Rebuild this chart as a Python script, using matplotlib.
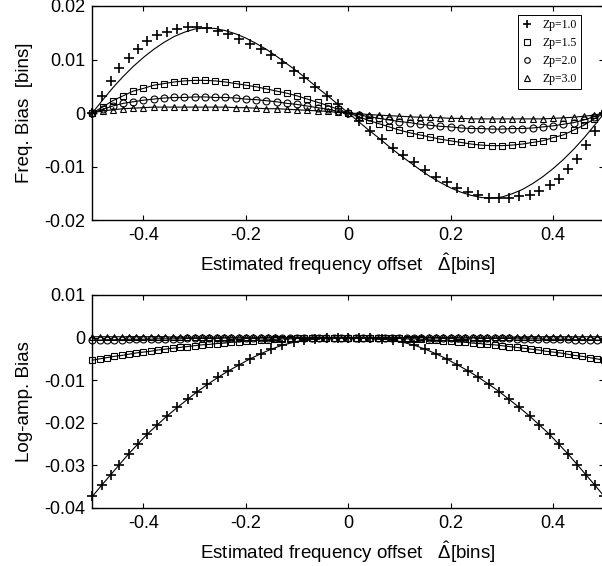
import matplotlib
matplotlib.use("Agg")
import matplotlib.pyplot as plt
import numpy as np

plt.rcParams['font.family'] = ['Liberation Sans', 'DejaVu Sans']
plt.rcParams['axes.unicode_minus'] = False
plt.rcParams['mathtext.fontset'] = 'custom'
plt.rcParams['mathtext.rm'] = 'Liberation Sans'
plt.rcParams['mathtext.it'] = 'Liberation Sans:italic'

# ---- data ----
labels = ['Zp=1.0', 'Zp=1.5', 'Zp=2.0', 'Zp=3.0']

# estimated offsets of the Zp=1.0 points (not evenly spaced)
x_est_zp10 = [-0.5, -0.482, -0.464, -0.447, -0.429, -0.411, -0.393, -0.373, -0.354, -0.334,
              -0.314, -0.295, -0.275, -0.254, -0.234, -0.213, -0.192, -0.171, -0.150, -0.129,
              -0.107, -0.087, -0.065, -0.042, -0.020, 0.0,
              0.020, 0.042, 0.065, 0.087, 0.107, 0.129, 0.150, 0.171, 0.192, 0.213,
              0.234, 0.254, 0.275, 0.295, 0.314, 0.334, 0.354, 0.373, 0.393, 0.411,
              0.429, 0.447, 0.464, 0.482, 0.5]

freq_zp10 = [0, 0.0032, 0.0060, 0.0084, 0.0103, 0.0120, 0.0135, 0.0145, 0.0152, 0.0157,
             0.0160, 0.0160, 0.0158, 0.0153, 0.0147, 0.0139, 0.0129, 0.0119, 0.0108, 0.0094,
             0.0079, 0.0065, 0.0049, 0.0032, 0.0017, 0,
             -0.0015, -0.0033, -0.0049, -0.0065, -0.0079, -0.0092, -0.0107, -0.0119, -0.0129, -0.0140,
             -0.0148, -0.0153, -0.0158, -0.0159, -0.0158, -0.0156, -0.0153, -0.0146, -0.0135, -0.0123,
             -0.0105, -0.0086, -0.0060, -0.0033, 0]

# theory curve for Zp=1.0 on the even grid
freq_zp10_theory = [0, 0.0024, 0.0047, 0.0068, 0.0087, 0.0104, 0.0119, 0.0132, 0.0143, 0.0151,
                    0.0157, 0.0159, 0.0158, 0.0154, 0.0148, 0.0140, 0.0130, 0.0119, 0.0106, 0.0092,
                    0.0078, 0.0063, 0.0047, 0.0032, 0.0016, 0,
                    -0.0016, -0.0032, -0.0047, -0.0063, -0.0078, -0.0092, -0.0106, -0.0119, -0.0130, -0.0140,
                    -0.0148, -0.0154, -0.0158, -0.0159, -0.0157, -0.0151, -0.0143, -0.0132, -0.0119, -0.0104,
                    -0.0087, -0.0068, -0.0047, -0.0024, 0]

freq_zp15 = [0, 0.0011, 0.0023, 0.0032, 0.0041, 0.0046, 0.0052, 0.0055, 0.0058, 0.0060,
             0.0061, 0.0061, 0.0060, 0.0058, 0.0055, 0.0052, 0.0049, 0.0045, 0.0041, 0.0037,
             0.0032, 0.0026, 0.0020, 0.0014, 0.0007, 0,
             -0.0007, -0.0014, -0.0020, -0.0026, -0.0032, -0.0037, -0.0041, -0.0045, -0.0049, -0.0052,
             -0.0055, -0.0058, -0.0060, -0.0061, -0.0061, -0.0060, -0.0058, -0.0055, -0.0052, -0.0046,
             -0.0041, -0.0032, -0.0023, -0.0011, 0]

freq_zp20 = [0, 0.0007, 0.0013, 0.0018, 0.0021, 0.0024, 0.0026, 0.0028, 0.0029, 0.0029,
             0.0030, 0.0030, 0.0029, 0.0029, 0.0028, 0.0026, 0.0025, 0.0023, 0.0021, 0.0018,
             0.0016, 0.0013, 0.0010, 0.0007, 0.0003, 0,
             -0.0003, -0.0007, -0.0010, -0.0013, -0.0016, -0.0018, -0.0021, -0.0023, -0.0025, -0.0026,
             -0.0028, -0.0029, -0.0029, -0.0030, -0.0030, -0.0029, -0.0029, -0.0028, -0.0026, -0.0024,
             -0.0021, -0.0018, -0.0013, -0.0007, 0]

freq_zp30 = [0, 0.0004, 0.0006, 0.0008, 0.0009, 0.0010, 0.0011, 0.0011, 0.0011, 0.0011,
             0.0011, 0.0011, 0.0011, 0.0011, 0.0010, 0.0010, 0.0009, 0.0008, 0.0008, 0.0007,
             0.0006, 0.0005, 0.0004, 0.0003, 0.0001, 0,
             -0.0001, -0.0003, -0.0004, -0.0005, -0.0006, -0.0007, -0.0008, -0.0008, -0.0009, -0.0010,
             -0.0010, -0.0011, -0.0011, -0.0011, -0.0011, -0.0011, -0.0011, -0.0011, -0.0011, -0.0010,
             -0.0009, -0.0008, -0.0006, -0.0004, 0]

amp_zp10 = [-0.0373, -0.0347, -0.0322, -0.0298, -0.0273, -0.0250, -0.0227, -0.0205, -0.0184, -0.0164,
            -0.0145, -0.0127, -0.0110, -0.0093, -0.0078, -0.0064, -0.0050, -0.0038, -0.0027, -0.0018,
            -0.0011, -0.0006, -0.0003, -0.0001, 0, 0,
            0, -0.0001, -0.0003, -0.0006, -0.0011, -0.0018, -0.0027, -0.0038, -0.0050, -0.0064,
            -0.0078, -0.0093, -0.0110, -0.0127, -0.0145, -0.0164, -0.0184, -0.0205, -0.0227, -0.0250,
            -0.0273, -0.0298, -0.0322, -0.0347, -0.0373]

amp_zp15 = [-0.0053, -0.0050, -0.0047, -0.0044, -0.0042, -0.0039, -0.0036, -0.0034, -0.0032, -0.0029,
            -0.0027, -0.0025, -0.0023, -0.0021, -0.0019, -0.0017, -0.0016, -0.0014, -0.0013, -0.0011,
            -0.0010, -0.0008, -0.0007, -0.0006, -0.0005, -0.0004, -0.0003, -0.0003, -0.0002, -0.0002,
            -0.0001, -0.0001, 0, 0, 0, 0,
            0, 0, 0, -0.0001, -0.0001, -0.0002, -0.0002, -0.0003, -0.0003, -0.0004,
            -0.0005, -0.0006, -0.0007, -0.0008, -0.0010, -0.0011, -0.0013, -0.0014, -0.0016, -0.0017,
            -0.0019, -0.0021, -0.0023, -0.0025, -0.0027, -0.0029, -0.0032, -0.0034, -0.0036, -0.0039,
            -0.0042, -0.0044, -0.0047, -0.0050, -0.0053]

amp_zp20 = [-0.0006, -0.0006, -0.0005, -0.0005, -0.0005, -0.0004, -0.0004, -0.0004, -0.0004, -0.0003,
            -0.0003, -0.0003, -0.0003, -0.0002, -0.0002, -0.0002, -0.0002, -0.0002, -0.0001, -0.0001,
            -0.0001, -0.0001, -0.0001, -0.0001, -0.0001, 0, 0, 0, 0, 0,
            0, 0, 0, 0, 0, 0,
            0, 0, 0, 0, 0, 0, 0, 0, 0, 0,
            -0.0001, -0.0001, -0.0001, -0.0001, -0.0001, -0.0001, -0.0001, -0.0002, -0.0002, -0.0002,
            -0.0002, -0.0002, -0.0003, -0.0003, -0.0003, -0.0003, -0.0004, -0.0004, -0.0004, -0.0004,
            -0.0005, -0.0005, -0.0005, -0.0006, -0.0006]

amp_zp30 = [0.0002, 0.0002, 0.0002, 0.0002, 0.0002, 0.0002, 0.0002, 0.0002, 0.0002, 0.0002,
            0.0002, 0.0001, 0.0001, 0.0001, 0.0001, 0.0001, 0.0001, 0.0001, 0.0001, 0.0001,
            0.0001, 0.0001, 0.0001, 0.0001, 0.0001, 0.0001, 0, 0, 0, 0,
            0, 0, 0, 0, 0, 0,
            0, 0, 0, 0, 0, 0, 0, 0, 0, 0.0001,
            0.0001, 0.0001, 0.0001, 0.0001, 0.0001, 0.0001, 0.0001, 0.0001, 0.0001, 0.0001,
            0.0001, 0.0001, 0.0001, 0.0001, 0.0002, 0.0002, 0.0002, 0.0002, 0.0002, 0.0002,
            0.0002, 0.0002, 0.0002, 0.0002, 0.0002]

x_grid_top = np.linspace(-0.5, 0.5, len(freq_zp15))
x_grid_bot = np.linspace(-0.5, 0.5, len(amp_zp15))

xticks = [-0.4, -0.2, 0, 0.2, 0.4]
xticklabels = ['-0.4', '-0.2', '0', '0.2', '0.4']
yticks_top = [0.02, 0.01, 0, -0.01, -0.02]
yticklabels_top = ['0.02', '0.01', '0', '-0.01', '-0.02']
yticks_bot = [0.01, 0, -0.01, -0.02, -0.03, -0.04]
yticklabels_bot = ['0.01', '0', '-0.01', '-0.02', '-0.03', '-0.04']

xlabel = r'Estimated frequency offset   $\hat{\Delta}$[bins]'

marker_kw = {
    '+': dict(marker='+', ms=7, mew=1.2),
    's': dict(marker='s', ms=5, mew=0.8, mfc='none'),
    'o': dict(marker='o', ms=5, mew=0.8, mfc='none'),
    '^': dict(marker='^', ms=5, mew=0.8, mfc='none'),
}


def style(ax, yticks, yticklabels, ylim, ylabel):
    ax.set_xlim(-0.5, 0.5)
    ax.set_ylim(*ylim)
    ax.set_xticks(xticks)
    ax.set_xticklabels(xticklabels)
    ax.set_yticks(yticks)
    ax.set_yticklabels(yticklabels)
    ax.tick_params(direction='in', length=3.5, width=0.8, labelsize=13,
                   top=True, right=True, pad=5)
    for s in ax.spines.values():
        s.set_linewidth(1.0)
    ax.set_xlabel(xlabel, fontsize=13.5, labelpad=5)
    ax.set_ylabel(ylabel, fontsize=13.5, labelpad=8)


fig = plt.figure(figsize=(6.02, 5.66), dpi=100)
ax1 = fig.add_axes([0.1533, 0.6113, 0.8505, 0.3781])
ax2 = fig.add_axes([0.1533, 0.1025, 0.8505, 0.3763])

# top: frequency bias
ax1.plot(x_grid_top, freq_zp10_theory, 'k-', lw=0.8)
ax1.plot(x_est_zp10, freq_zp10, ls='none', color='k', label=labels[0], **marker_kw['+'])
for vals, m, lab in [(freq_zp15, 's', labels[1]), (freq_zp20, 'o', labels[2]), (freq_zp30, '^', labels[3])]:
    ax1.plot(x_grid_top, vals, 'k-', lw=0.8)
    ax1.plot(x_grid_top, vals, ls='none', color='k', label=lab, **marker_kw[m])
style(ax1, yticks_top, yticklabels_top, (-0.02, 0.02), 'Freq. Bias  [bins]')

leg = ax1.legend(loc='upper right', bbox_to_anchor=(0.954, 0.958), borderaxespad=0,
                 prop={'family': 'Liberation Serif', 'size': 8.5}, frameon=True, fancybox=False,
                 edgecolor='k', framealpha=1, handlelength=0.8, handletextpad=0.9,
                 labelspacing=0.5, borderpad=0.35, markerscale=0.8)
leg.get_frame().set_linewidth(0.7)

# bottom: log-amplitude bias
ax2.plot(x_est_zp10, amp_zp10, 'k-', lw=0.8)
ax2.plot(x_est_zp10, amp_zp10, ls='none', color='k', **marker_kw['+'])
for vals, m in [(amp_zp15, 's'), (amp_zp20, 'o'), (amp_zp30, '^')]:
    ax2.plot(x_grid_bot, vals, 'k-', lw=0.8)
    ax2.plot(x_grid_bot, vals, ls='none', color='k', **marker_kw[m])
style(ax2, yticks_bot, yticklabels_bot, (-0.04, 0.01), 'Log-amp. Bias')

for ax in (ax1, ax2):
    for ln in ax.lines:
        ln.set_clip_on(False)

fig.savefig('out.png', dpi=100)
